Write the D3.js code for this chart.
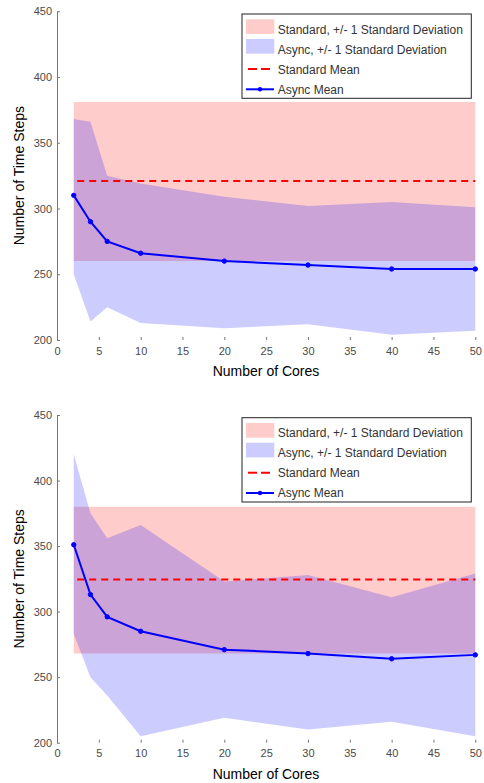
<!DOCTYPE html>
<html lang="en">
<head>
<meta charset="UTF-8">
<title>Time Steps vs Cores</title>
<script src="https://cdn.jsdelivr.net/npm/d3@7/dist/d3.min.js"></script>
<style>
  body { margin: 0; background: #fff; }
  text { font-family: "Liberation Sans", Arial, Helvetica, sans-serif; }
</style>
</head>
<body>
<svg width="484" height="783"></svg>
<script>
// ---- data ----
const cores = [2, 4, 6, 10, 20, 30, 40, 50];
const xTicks = [0, 5, 10, 15, 20, 25, 30, 35, 40, 45, 50];
const yTicks = [200, 250, 300, 350, 400, 450];
const legendLabels = ["Standard, +/- 1 Standard Deviation", "Async, +/- 1 Standard Deviation",
                      "Standard Mean", "Async Mean"];

// top panel
const stdMean1 = 321, stdLow1 = 260, stdHigh1 = 381;
const asyncMean1 = [310, 290, 275, 266, 260, 257, 254, 254];
const asyncHigh1 = [368, 366, 325, 319, 309, 302, 305, 301];
const asyncLow1  = [250, 214, 225, 213, 209, 212, 204, 207];

// bottom panel
const stdMean2 = 324.5, stdLow2 = 268, stdHigh2 = 380;
const asyncMean2 = [351, 313, 296, 285, 271, 268, 264, 267];
const asyncHigh2 = [420, 375, 356, 366, 323, 328, 311, 329];
const asyncLow2  = [283, 250, 236, 205, 219, 210, 216, 205];

const svg = d3.select("svg");

function panel(top, bottom, stdMean, stdLow, stdHigh, mean, high, low) {
  let x = d3.scaleLinear().domain([0, 50]).range([57, 475.3]);
  let y = d3.scaleLinear().domain([200, 450]).range([bottom, top]);
  let g = svg.append("g");

  // standard band
  g.append("path")
    .datum([2, 50])
    .attr("d", d3.area().x(d => x(d)).y0(y(stdLow)).y1(y(stdHigh)))
    .style("fill", "red").style("fill-opacity", 0.2);

  // async band
  let rows = cores.map((c, i) => ({c: c, lo: low[i], hi: high[i], m: mean[i]}));
  g.append("path")
    .datum(rows)
    .attr("d", d3.area().x(d => x(d.c)).y0(d => y(d.lo)).y1(d => y(d.hi)))
    .style("fill", "blue").style("fill-opacity", 0.2);

  // standard mean
  g.append("path")
    .datum([2, 50])
    .attr("d", d3.line().x(d => x(d)).y(y(stdMean)))
    .style("fill", "none").style("stroke", "red")
    .style("stroke-width", 2).style("stroke-dasharray", "7,5").style("stroke-dashoffset", -3.5);

  // async mean
  g.append("path")
    .datum(rows)
    .attr("d", d3.line().x(d => x(d.c)).y(d => y(d.m)))
    .style("fill", "none").style("stroke", "blue").style("stroke-width", 2);
  g.selectAll(".mk").data(rows).enter().append("circle")
    .attr("cx", d => x(d.c)).attr("cy", d => y(d.m)).attr("r", 2.2)
    .style("fill", "blue").style("stroke", "blue").style("stroke-width", 1);

  // y axis
  let ya = g.append("g").attr("transform", "translate(57,0)")
    .call(d3.axisLeft(y).tickValues(yTicks).tickSizeInner(-3).tickSizeOuter(0).tickPadding(5));
  ya.select(".domain").style("stroke", "#777");
  ya.selectAll(".tick line").style("stroke", "#777");
  ya.selectAll("text").style("font-size", "11px").style("fill", "#4a4a4a")
    .style("font-family", "'Liberation Sans', Arial, sans-serif");

  // x axis (ticks only)
  let xa = g.append("g").attr("transform", "translate(0," + bottom + ")")
    .call(d3.axisBottom(x).tickValues(xTicks).tickSizeInner(-3).tickSizeOuter(0).tickPadding(7));
  xa.select(".domain").remove();
  xa.selectAll(".tick line").style("stroke", "#777").filter(d => d === 0).remove();
  xa.selectAll("text").style("font-size", "11px").style("fill", "#4a4a4a")
    .style("font-family", "'Liberation Sans', Arial, sans-serif");

  g.append("text").attr("x", 266).attr("y", bottom + 36)
    .attr("text-anchor", "middle").style("font-size", "14px").style("fill", "#000")
    .text("Number of Cores");
  g.append("text")
    .attr("transform", "translate(24," + ((top + bottom) / 2) + ") rotate(-90)")
    .attr("text-anchor", "middle").style("font-size", "14px").style("fill", "#000")
    .text("Number of Time Steps");

  // legend
  let lg = g.append("g").attr("transform", "translate(242," + (top + 2.7) + ")");
  lg.append("rect").attr("width", 229.3).attr("height", 84.3)
    .style("fill", "white").style("stroke", "#222").style("stroke-width", 1);
  lg.append("rect").attr("x", 4).attr("y", 5.3).attr("width", 28.3).attr("height", 14.7)
    .style("fill", "red").style("fill-opacity", 0.2);
  lg.append("rect").attr("x", 4).attr("y", 25).attr("width", 28.3).attr("height", 14.7)
    .style("fill", "blue").style("fill-opacity", 0.2);
  lg.append("line").attr("x1", 5).attr("x2", 32).attr("y1", 55).attr("y2", 55)
    .style("stroke", "red").style("stroke-width", 2).style("stroke-dasharray", "9,4").style("stroke-dashoffset", -1);
  lg.append("line").attr("x1", 4).attr("x2", 32).attr("y1", 75.3).attr("y2", 75.3)
    .style("stroke", "blue").style("stroke-width", 2);
  lg.append("circle").attr("cx", 18).attr("cy", 75.3).attr("r", 2.2).style("fill", "blue");
  lg.selectAll(".lt").data(legendLabels).enter().append("text")
    .attr("x", 35.7).attr("y", (d, i) => 19.5 + i * 20.1)
    .style("font-size", "12px").style("fill", "#333")
    .text(d => d);
}

panel(11.3, 340, stdMean1, stdLow1, stdHigh1, asyncMean1, asyncHigh1, asyncLow1);
panel(415, 742.7, stdMean2, stdLow2, stdHigh2, asyncMean2, asyncHigh2, asyncLow2);
</script>
</body>
</html>
